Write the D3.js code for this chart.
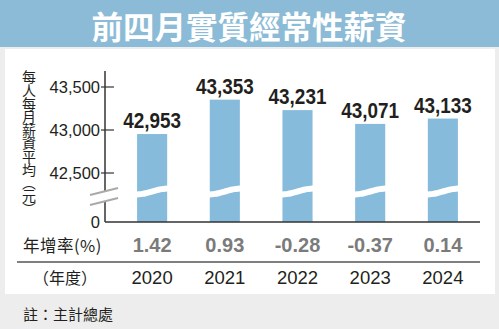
<!DOCTYPE html>
<html>
<head>
<meta charset="utf-8">
<script src="https://cdn.jsdelivr.net/npm/d3@7"></script>
<style>
  html, body { margin: 0; padding: 0; background: #ededed; }
  svg { display: block; }
</style>
</head>
<body>
<svg id="chart" width="499" height="329"></svg>
<script>
// Average monthly regular real wage, Jan–Apr of each year
const years = ["2020", "2021", "2022", "2023", "2024"];
const wages = [42953, 43353, 43231, 43071, 43133];
const growthRates = ["1.42", "0.93", "-0.28", "-0.37", "0.14"];
const yTicks = [42500, 43000, 43500];

const title = "前四月實質經常性薪資";
const yTitle = "每人每月薪資平均（元）";
const source = "註：主計總處";

const W = 499, H = 329;
const BLUE_BAR = "#86bbdb";
const BLUE_HEAD = "#8bbbd6";
const INK = "#231f20";
const NUM_FONT = "'Liberation Sans', Arial, sans-serif";
const CJK_FONT = "'Noto Sans CJK TC', 'Noto Sans CJK SC', sans-serif";

const svg = d3.select("#chart");

// page frame
svg.append("rect").attr("width", W).attr("height", H).attr("fill", "#ededed");
svg.append("rect").attr("x", 5).attr("y", 49).attr("width", 490).attr("height", 245).attr("fill", "#fff");
svg.append("rect").attr("width", W).attr("height", 47).attr("fill", BLUE_HEAD);
svg.append("text")
  .attr("x", 249).attr("y", 25)
  .attr("text-anchor", "middle").attr("dominant-baseline", "central")
  .attr("font-family", CJK_FONT).attr("font-weight", 700).attr("font-size", 31.5)
  .attr("fill", "#fff").text(title);

// scales: upper segment is linear; the base (0) sits below an axis break
const baseY = 222;
const y = d3.scaleLinear().domain([42500, 43500]).range([173, 87]);
const x = d3.scaleBand().domain(years).range([116, 479]).paddingInner(0.586).paddingOuter(0.29);
const axisX = 105;
const cx = i => x(years[i]) + x.bandwidth() / 2;

// bars
const bars = svg.append("g");
bars.selectAll("rect").data(wages).join("rect")
  .attr("x", (d, i) => x(years[i]))
  .attr("y", d => y(d))
  .attr("width", x.bandwidth())
  .attr("height", d => baseY - y(d))
  .attr("fill", BLUE_BAR);

// wavy cut through each bar marking the break
const waveC = 191.5, waveAmp = 3;
const wave = d3.line().curve(d3.curveBasis);
bars.selectAll("path").data(years).join("path")
  .attr("d", yr => {
    const x0 = x(yr) - 1, w = x.bandwidth() + 2;
    const pts = d3.range(0, 1.0001, 0.1).map(t => [x0 + t * w, waveC + waveAmp * Math.cos(Math.PI * t)]);
    return wave(pts);
  })
  .attr("fill", "none").attr("stroke", "#fff").attr("stroke-width", 6);

// value labels (bold, slightly condensed)
svg.append("g").selectAll("text").data(wages).join("text")
  .attr("transform", (d, i) => `translate(${cx(i)},${y(d) - 6}) scale(0.88,1)`)
  .attr("text-anchor", "middle")
  .attr("font-family", NUM_FONT).attr("font-weight", 700).attr("font-size", 21.5)
  .attr("fill", INK)
  .text(d => d3.format(",")(d));

// y axis
const ax = svg.append("g");
ax.append("line").attr("x1", axisX).attr("x2", axisX).attr("y1", 71).attr("y2", baseY)
  .attr("stroke", "#333").attr("stroke-width", 1.5);
ax.selectAll("line.tick").data(yTicks).join("line").attr("class", "tick")
  .attr("x1", axisX - 4).attr("x2", axisX + 9)
  .attr("y1", d => y(d)).attr("y2", d => y(d))
  .attr("stroke", "#333").attr("stroke-width", 1.2);
const tickLabels = yTicks.map(v => ({ label: d3.format(",")(v), pos: y(v) }))
  .concat([{ label: "0", pos: baseY }]);
ax.selectAll("text").data(tickLabels).join("text")
  .attr("x", 100).attr("y", d => d.pos)
  .attr("dy", "0.35em")
  .attr("text-anchor", "end")
  .attr("font-family", NUM_FONT).attr("font-size", 16.5)
  .attr("fill", INK)
  .text(d => d.label);

// axis break marks
const brk = svg.append("g");
brk.append("polygon").attr("points", "90,195 118,188 118,198 90,205").attr("fill", "#fff");
brk.selectAll("line").data([0, 10]).join("line")
  .attr("x1", 90).attr("x2", 118)
  .attr("y1", d => 195 + d).attr("y2", d => 188 + d)
  .attr("stroke", "#a9a9a9").attr("stroke-width", 2);

// x axis baseline
svg.append("line").attr("x1", axisX).attr("x2", 480).attr("y1", baseY).attr("y2", baseY)
  .attr("stroke", "#333").attr("stroke-width", 1.5);

// vertical y-axis title, set in vertical writing mode
svg.append("text")
  .attr("x", 29).attr("y", 70)
  .attr("writing-mode", "vertical-rl")
  .attr("font-family", CJK_FONT).attr("font-size", 14).attr("fill", INK)
  .attr("letter-spacing", -0.8)
  .text(yTitle);

// growth-rate row
svg.append("text").attr("x", 23).attr("y", 252)
  .attr("font-family", CJK_FONT).attr("font-size", 16.5).attr("fill", INK)
  .attr("letter-spacing", 0.5)
  .text("年增率(%)");
svg.append("g").selectAll("text").data(growthRates).join("text")
  .attr("x", (d, i) => cx(i))
  .attr("y", 252)
  .attr("text-anchor", "middle")
  .attr("font-family", NUM_FONT).attr("font-weight", 700).attr("font-size", 20)
  .attr("fill", "#7b7b7b")
  .text(d => d);

svg.append("line").attr("x1", 17).attr("x2", 480).attr("y1", 262).attr("y2", 262)
  .attr("stroke", "#555").attr("stroke-width", 1.5);

// year row
svg.append("text").attr("x", 65).attr("y", 284).attr("text-anchor", "middle")
  .attr("font-family", CJK_FONT).attr("font-size", 16).attr("fill", INK)
  .text("（年度）");
svg.append("g").selectAll("text").data(years).join("text")
  .attr("x", d => x(d) + x.bandwidth() / 2)
  .attr("y", 284)
  .attr("text-anchor", "middle")
  .attr("font-family", NUM_FONT).attr("font-size", 18.5)
  .attr("fill", INK)
  .text(d => d);

// source note
svg.append("text").attr("x", 23).attr("y", 313).attr("dominant-baseline", "central")
  .attr("font-family", CJK_FONT).attr("font-size", 15).attr("fill", INK)
  .text(source);
</script>
</body>
</html>
